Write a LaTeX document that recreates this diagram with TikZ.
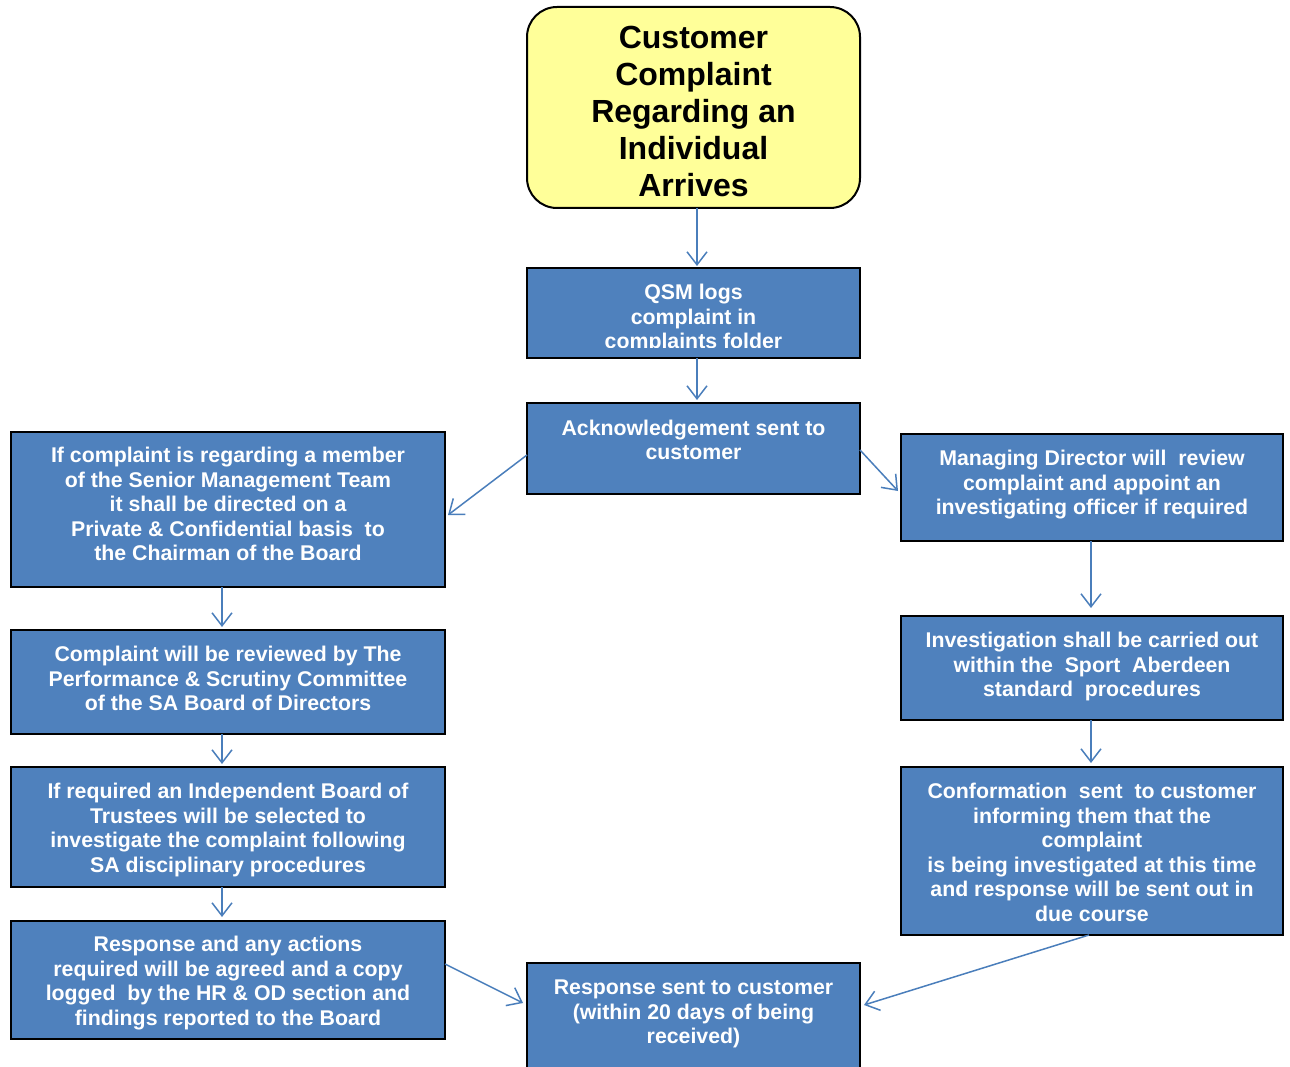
\documentclass[tikz,border=0pt]{standalone}
\usepackage{fontspec}
\setmainfont{Liberation Sans}
\usepackage{tikz}
\usetikzlibrary{arrows.meta,positioning}
\definecolor{boxblue}{HTML}{4F81BD}
\definecolor{linkblue}{HTML}{4A7EBB}
\definecolor{startyellow}{HTML}{FFFF99}

\begin{document}
\begin{tikzpicture}
      [x=1pt, y=-1pt, >={Straight Barb[length=13pt,width=20pt]},
      startbox/.style={rectangle, draw=black, fill=startyellow, line width=2pt,
        rounded corners=30pt, inner sep=0pt, outer sep=0pt, anchor=north west},
      starttext/.style={align=center, inner sep=0pt,
        font=\fontsize{32pt}{37pt}\selectfont\bfseries},
      blockbox/.style={rectangle, draw=black, fill=boxblue, line width=2pt,
        inner sep=0pt, outer sep=0pt, anchor=north west},
      blocktext/.style={text=white, align=center, inner sep=0pt,
        font=\fontsize{21.3pt}{24.5pt}\selectfont\bfseries},
      link/.style={->, draw=linkblue, line width=1.5pt}]

      \useasboundingbox (0,0) rectangle (1290,1067);

      % middle column
      \node [startbox, minimum width=333pt, minimum height=201pt] (start) at (527,7) {};
      \node [starttext, below=19pt of start.north] (start-t)
        {Customer\\Complaint\\Regarding an\\Individual\\Arrives};
      \node [blockbox, minimum width=333pt, minimum height=90pt, below=60pt of start] (qsm) {};
      \begin{scope}
        \clip (527,268) rectangle (860,347);
        \node [blocktext, below=16pt of qsm.north] (qsm-t) {QSM logs\\complaint in\\complaints folder};
      \end{scope}
      \node [blockbox, minimum width=333pt, minimum height=91pt, below=45pt of qsm] (ack) {};
      \node [blocktext, below=16.5pt of ack.north] (ack-t) {Acknowledgement sent to\\customer};
      \node [blockbox, minimum width=333pt, minimum height=112pt] (resp) at (527,963) {};
      \node [blocktext, below=17pt of resp.north] (resp-t)
        {Response sent to customer\\(within 20 days of being\\received)};

      % left column
      \node [blockbox, minimum width=434pt, minimum height=155pt] (smt) at (11,432) {};
      \node [blocktext, below=15pt of smt.north] (smt-t)
        {If complaint is regarding a member\\of the Senior Management Team\\it shall be directed on a\\
         Private \& Confidential basis\ \ to\\the Chairman of the Board};
      \node [blockbox, minimum width=434pt, minimum height=104pt, below=43pt of smt] (psc) {};
      \node [blocktext, below=16pt of psc.north] (psc-t)
        {Complaint will be reviewed by The\\Performance \& Scrutiny Committee\\of the SA Board of Directors};
      \node [blockbox, minimum width=434pt, minimum height=120pt, below=33pt of psc] (ibt) {};
      \node [blocktext, below=16pt of ibt.north] (ibt-t)
        {If required an Independent Board of\\Trustees will be selected to\\
         investigate the complaint following\\SA disciplinary procedures};
      \node [blockbox, minimum width=434pt, minimum height=118pt, below=34pt of ibt] (hr) {};
      \node [blocktext, below=15pt of hr.north] (hr-t)
        {Response and any actions\\required will be agreed and a copy\\
         logged\ \ by the HR \& OD section and\\findings reported to the Board};

      % right column
      \node [blockbox, minimum width=382pt, minimum height=107pt] (md) at (901,434) {};
      \node [blocktext, below=16pt of md.north] (md-t)
        {Managing Director will\ \ review\\complaint and appoint an\\investigating officer if required};
      \node [blockbox, minimum width=382pt, minimum height=104pt, below=75pt of md] (inv) {};
      \node [blocktext, below=16pt of inv.north] (inv-t)
        {Investigation shall be carried out\\within the\ \ Sport\ \ Aberdeen\\standard\ \ procedures};
      \node [blockbox, minimum width=382pt, minimum height=168pt, below=47pt of inv] (conf) {};
      \node [blocktext, below=16pt of conf.north] (conf-t)
        {Conformation\ \ sent\ \ to customer\\informing them that the\\complaint\\
         is being investigated at this time\\and response will be sent out in\\due course};

      \draw [link] ([xshift=3.5pt]start.south) -- ([xshift=3.5pt,yshift=2pt]qsm.north);
      \draw [link] ([xshift=3.5pt]qsm.south) -- ([xshift=3.5pt,yshift=3pt]ack.north);
      \draw [link] ([yshift=-6.5pt]ack.west) -- ([xshift=3pt,yshift=-5.5pt]smt.east);
      \draw [link] ([yshift=-1.5pt]ack.east) -- ([xshift=-3pt,yshift=-3.5pt]md.west);
      \draw [link] ([xshift=-6pt]smt.south) -- ([xshift=-6pt,yshift=3pt]psc.north);
      \draw [link] ([xshift=-6pt]psc.south) -- ([xshift=-6pt,yshift=3pt]ibt.north);
      \draw [link] ([xshift=-6pt]ibt.south) -- ([xshift=-6pt,yshift=4pt]hr.north);
      \draw [link] ([xshift=-1pt]md.south) -- ([xshift=-1pt,yshift=8pt]inv.north);
      \draw [link] ([xshift=-1pt]inv.south) -- ([xshift=-1pt,yshift=4pt]conf.north);
      \draw [link] ([xshift=-3pt]conf.south) -- ([xshift=4pt,yshift=-42pt]resp.north east);
      \draw [link] ([yshift=16pt]hr.east) -- ([xshift=-4pt,yshift=-40pt]resp.north west);
    \end{tikzpicture}
\end{document}
